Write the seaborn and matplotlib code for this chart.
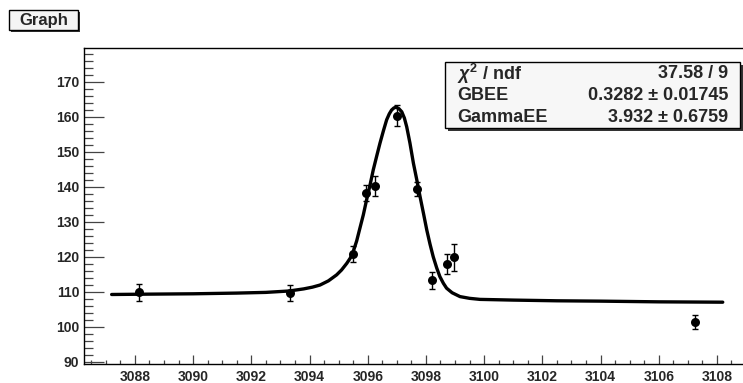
import matplotlib
matplotlib.use("Agg")
import matplotlib.pyplot as plt
import seaborn as sns
import pandas as pd
from matplotlib.ticker import MultipleLocator, FixedLocator
from matplotlib.patches import Rectangle

# ---------------- data ----------------
x_data = [3088.14, 3093.33, 3095.48, 3095.93, 3096.25, 3097.00, 3097.68, 3098.21, 3098.71, 3098.98, 3107.26]
y_data = [109.8, 109.6, 120.8, 138.3, 140.2, 160.3, 139.3, 113.3, 117.9, 119.8, 101.3]
y_err = [2.4, 2.3, 2.2, 2.3, 2.9, 3.0, 2.1, 2.4, 2.9, 3.8, 2.1]

curve_x = [3087.2, 3088.5, 3090.0, 3091.5, 3092.5, 3093.3, 3093.8, 3094.1, 3094.36, 3094.65,
           3094.93, 3095.1, 3095.28, 3095.4, 3095.50, 3095.62, 3095.73, 3095.85, 3095.96,
           3096.08, 3096.19, 3096.31, 3096.42, 3096.54, 3096.65, 3096.74, 3096.82, 3096.90,
           3096.97, 3097.07, 3097.17, 3097.26, 3097.34, 3097.45, 3097.57, 3097.69, 3097.80,
           3097.92, 3098.03, 3098.14, 3098.25, 3098.37, 3098.48, 3098.6, 3098.71, 3098.9,
           3099.17, 3099.5, 3099.86, 3101.0, 3102.5, 3104.0, 3106.0, 3108.2]
curve_y = [109.2, 109.3, 109.4, 109.6, 109.8, 110.2, 110.8, 111.3, 111.9, 113.1,
           114.8, 116.2, 118.1, 119.6, 121.4, 124.5, 128.1, 132.0, 136.2,
           140.5, 144.8, 148.8, 152.4, 156.0, 159.1, 160.8, 161.9, 162.5,
           162.7, 162.3, 161.4, 159.6, 157.1, 152.5, 146.7, 141.8, 137.1,
           132.2, 127.6, 123.6, 120.0, 116.8, 114.3, 112.4, 111.0, 109.7,
           108.6, 108.1, 107.8, 107.6, 107.4, 107.3, 107.1, 107.0]

x_ticks = list(range(3088, 3109, 2))
y_ticks = list(range(90, 171, 10))

title_text = "Graph"
stat_names = [r"$\chi^{2}$ / ndf", "GBEE", "GammaEE"]
stat_values = ["37.58 / 9", "0.3282 \u00b1 0.01745", "3.932 \u00b1 0.6759"]

# ---------------- style ----------------
sns.set_theme(style="white")
plt.rcParams['font.family'] = ['Liberation Sans', 'DejaVu Sans']
plt.rcParams['font.weight'] = 'bold'
plt.rcParams['mathtext.fontset'] = 'custom'
plt.rcParams['mathtext.rm'] = 'Liberation Sans:bold'
plt.rcParams['mathtext.it'] = 'Liberation Sans:italic:bold'
plt.rcParams['mathtext.bf'] = 'Liberation Sans:bold'

W, H = 743, 383
fig = plt.figure(figsize=(W / 100, H / 100), dpi=100)
fig.patch.set_facecolor('white')

def fx(px):
    return px / W

def fy(py):
    return 1 - py / H

ax_left, ax_top, ax_bottom, ax_right = 84, 48, 364, 760
ax = fig.add_axes([fx(ax_left), fy(ax_bottom), (ax_right - ax_left) / W, (ax_bottom - ax_top) / H])
ax.set_facecolor('white')

px_per_x = 29.1
px_per_y = 3.5
x0 = 3086.25
y0 = 89.34
ax.set_xlim(x0, x0 + (ax_right - ax_left) / px_per_x)
ax.set_ylim(y0, y0 + (ax_bottom - ax_top) / px_per_y)

# fitted curve
curve_df = pd.DataFrame({"x": curve_x, "y": curve_y})
sns.lineplot(data=curve_df, x="x", y="y", ax=ax, color='black', lw=2.4,
             sort=False, estimator=None, zorder=2)
for ln in ax.get_lines():
    ln.set_solid_joinstyle('round')
    ln.set_solid_capstyle('round')

# data points with error bars
ax.errorbar(x_data, y_data, yerr=y_err, fmt='none', ecolor='black',
            elinewidth=1.0, capsize=2.5, capthick=1.0, zorder=3)
pts_df = pd.DataFrame({"x": x_data, "y": y_data})
sns.scatterplot(data=pts_df, x="x", y="y", ax=ax, s=42, color='black',
                edgecolor='black', linewidth=0, zorder=4)

ax.set_xlabel("")
ax.set_ylabel("")

# ticks
ax.xaxis.set_major_locator(FixedLocator(x_ticks))
ax.xaxis.set_minor_locator(MultipleLocator(0.5))
ax.yaxis.set_major_locator(FixedLocator(y_ticks))
ax.yaxis.set_minor_locator(MultipleLocator(2))
ax.tick_params(axis='x', which='major', direction='in', length=6.2, width=0.9,
               color='#444444', pad=4.5, labelsize=10, bottom=True, top=False)
ax.tick_params(axis='x', which='minor', direction='in', length=3.1, width=0.9,
               color='#444444', bottom=True, top=False)
ax.tick_params(axis='y', which='major', direction='in', length=14.2, width=0.9,
               color='#444444', pad=3.5, labelsize=10, left=True, right=False)
ax.tick_params(axis='y', which='minor', direction='in', length=6.6, width=0.9,
               color='#444444', left=True, right=False)
for lab in ax.get_xticklabels() + ax.get_yticklabels():
    lab.set_fontweight('bold')

for s in ['left', 'bottom', 'top']:
    ax.spines[s].set_visible(True)
    ax.spines[s].set_color('black')
    ax.spines[s].set_linewidth(1.0)
ax.spines['right'].set_visible(False)

# title box with shadow
tb_l, tb_t, tb_r, tb_b = 9, 10, 78, 30
fig.add_artist(Rectangle((fx(tb_l + 2), fy(tb_b + 2)), (tb_r - tb_l) / W, (tb_b - tb_t) / H,
                         transform=fig.transFigure, facecolor='#333333', edgecolor='none', zorder=5))
fig.add_artist(Rectangle((fx(tb_l), fy(tb_b)), (tb_r - tb_l) / W, (tb_b - tb_t) / H,
                         transform=fig.transFigure, facecolor='#f4f4f4', edgecolor='black',
                         linewidth=1.0, zorder=6))
fig.text(fx(43.5), fy(20.5), title_text, ha='center', va='center', fontsize=12,
         fontweight='bold', zorder=7)

# stats box with shadow
sb_l, sb_t, sb_r, sb_b = 445, 62, 740, 128
fig.add_artist(Rectangle((fx(sb_l + 3), fy(sb_b + 3)), (sb_r - sb_l) / W, (sb_b - sb_t) / H,
                         transform=fig.transFigure, facecolor='#333333', edgecolor='none', zorder=5))
fig.add_artist(Rectangle((fx(sb_l), fy(sb_b)), (sb_r - sb_l) / W, (sb_b - sb_t) / H,
                         transform=fig.transFigure, facecolor='#f7f7f7', edgecolor='black',
                         linewidth=1.0, zorder=6))
row_y = [74, 96, 118]
for name, val, ry in zip(stat_names, stat_values, row_y):
    fig.text(fx(457), fy(ry), name, ha='left', va='center', fontsize=13,
             fontweight='bold', zorder=7)
    fig.text(fx(728), fy(ry), val, ha='right', va='center', fontsize=13,
             fontweight='bold', zorder=7)

fig.savefig("out.png", dpi=100, facecolor='white')
